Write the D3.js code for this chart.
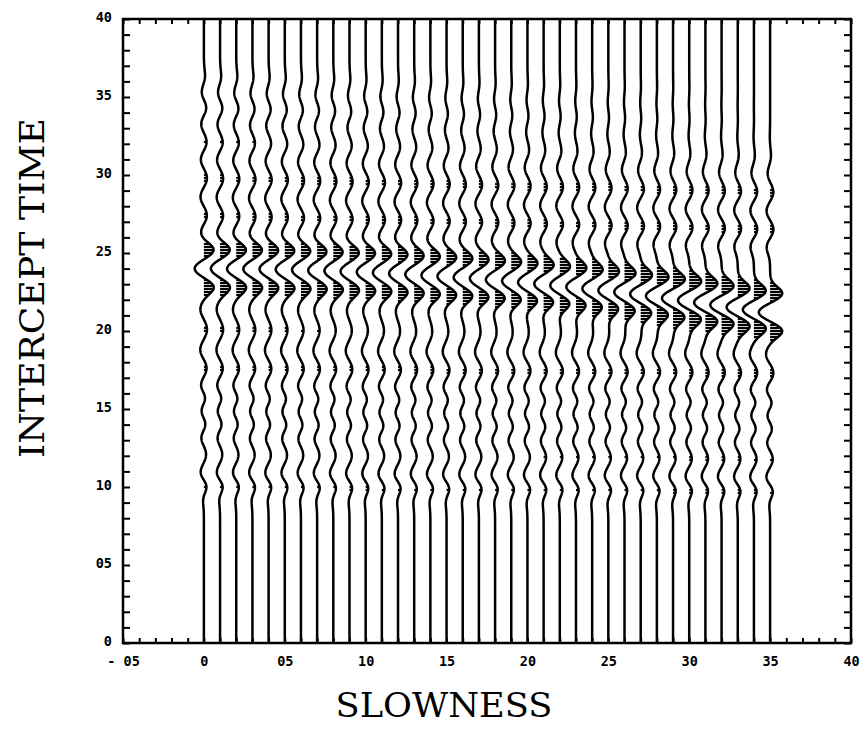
<!DOCTYPE html>
<html>
<head>
<meta charset="utf-8">
<script src="https://cdn.jsdelivr.net/npm/d3@7"></script>
<style>
  body { margin: 0; background: #fff; }
  .tick text { font-family: "DejaVu Sans Mono", monospace; font-weight: bold; font-size: 13.5px; fill: #000; }
  .tick line { stroke: #000; stroke-width: 2; }
  .title { font-family: "DejaVu Serif", "Liberation Serif", serif; font-size: 33px; fill: #000; }
</style>
</head>
<body>
<div id="chart"></div>
<script>
// slowness of each trace
const slowness = [0,1,2,3,4,5,6,7,8,9,10,11,12,13,14,15,16,17,
                  18,19,20,21,22,23,24,25,26,27,28,29,30,31,32,33,34,35];

// main arrival: centre (trough) time per trace
const pulseTime = [24.00,24.00,23.99,23.98,23.97,23.95,23.92,23.89,23.86,23.82,
                   23.78,23.74,23.69,23.63,23.57,23.51,23.44,23.37,23.29,23.21,
                   23.12,23.03,22.93,22.83,22.72,22.61,22.50,22.37,22.25,22.11,
                   21.97,21.83,21.68,21.53,21.37,21.20];
// main arrival peak amplitude (slowness units) per trace
const pulseAmp = [0.62,0.62,0.62,0.61,0.61,0.61,0.60,0.60,0.60,0.60,
                  0.60,0.60,0.60,0.60,0.60,0.61,0.61,0.61,0.62,0.62,
                  0.63,0.63,0.64,0.65,0.66,0.67,0.69,0.71,0.73,0.74,
                  0.75,0.75,0.75,0.74,0.74,0.76];

// background ripples: time on trace 0, signed amplitude (left / right edge), time shift at slowness 35
const rippleTime = [36.3,35.3,34.3,33.3,32.1,31.0,29.8,28.6,27.4,26.3,
                    21.4,20.1,18.8,17.6,16.5,15.7,14.9,14.0,13.2,12.1,10.9,10.0,9.4];
const rippleAmpL = [0.08,-0.15,0.17,-0.18,0.18,-0.2,0.2,-0.22,0.2,-0.2,
                    -0.22,0.2,-0.23,0.18,-0.21,0.15,-0.19,0.15,-0.19,0.15,-0.23,0.23,-0.1];
const rippleAmpR = [0,0,0,-0.02,0.06,-0.16,0.21,-0.23,0.22,-0.22,
                    0,0,-0.26,0.22,-0.24,0.18,-0.22,0.18,-0.22,0.18,-0.26,0.24,-0.1];
const rippleShift = [-0.9,-0.9,-0.9,-0.9,-0.9,-0.9,-0.9,-0.9,-0.9,-0.9,
                     -0.3,-0.3,-0.3,-0.3,-0.3,-0.3,-0.3,-0.3,-0.3,-0.3,-0.3,-0.3,-0.3];

const xTickValues = [-5,0,5,10,15,20,25,30,35,40];
const xTickLabels = ['- 05','0','05','10','15','20','25','30','35','40'];
const yTickValues = [0,5,10,15,20,25,30,35,40];
const yTickLabels = ['0','05','10','15','20','25','30','35','40'];

const width = 867;
const height = 730;
const margin = { left: 123, top: 19, right: 16, bottom: 87 };
const innerW = width - margin.left - margin.right;
const innerH = height - margin.top - margin.bottom;

const svg = d3.select('#chart').append('svg')
    .attr('width', width)
    .attr('height', height)
  .append('g')
    .attr('transform', 'translate(' + margin.left + ',' + margin.top + ')');

const xScale = d3.scaleLinear().domain([-5, 40]).range([0, innerW]);
const yScale = d3.scaleLinear().domain([0, 40]).range([innerH, 0]);

// one lobe of the wavelet
const lobe = (dt, sig) => Math.exp(-(dt * dt) / (2 * sig * sig));
const halfPeriod = 1.2;

function displacement(i, t) {
    const f = slowness[i] / 35;
    let s = 0;
    const tc = pulseTime[i], a = pulseAmp[i];
    s += a * lobe(t - (tc + halfPeriod), 0.42);
    s -= 0.95 * a * lobe(t - tc, 0.42);
    s += a * lobe(t - (tc - halfPeriod), 0.42);
    rippleTime.forEach((rt, k) => {
        const amp = rippleAmpL[k] + (rippleAmpR[k] - rippleAmpL[k]) * f;
        const tt = rt + rippleShift[k] * f;
        s += amp * lobe(t - tt, 0.45);
    });
    return s;
}

const tSamples = d3.range(0, 40.001, 0.04);

const line = d3.line()
    .x(d => xScale(d.p + d.s))
    .y(d => yScale(d.t));

// positive lobes filled with horizontal strokes
const hatchRows = d3.range(innerH, 0, -3).map(py => yScale.invert(py));

slowness.forEach((p, i) => {
    const pts = tSamples.map(t => ({ p: p, t: t, s: displacement(i, t) }));
    const fills = hatchRows
        .map(t => ({ t: t, s: displacement(i, t) }))
        .filter(d => d.s > 0.15);
    svg.append('g').selectAll('line')
        .data(fills)
        .enter().append('line')
        .attr('x1', xScale(p))
        .attr('x2', d => xScale(p + d.s))
        .attr('y1', d => yScale(d.t))
        .attr('y2', d => yScale(d.t))
        .attr('stroke', '#000')
        .attr('stroke-width', 2.2);
    svg.append('path')
        .datum(pts)
        .attr('fill', 'none')
        .attr('stroke', '#000')
        .attr('stroke-width', 2.5)
        .attr('d', line);
});

// axes, ticks pointing inwards
const xBottom = d3.axisBottom(xScale)
    .tickValues(d3.range(-5, 41))
    .tickSize(-5)
    .tickPadding(13)
    .tickFormat(d => xTickValues.indexOf(d) >= 0 ? xTickLabels[xTickValues.indexOf(d)] : '');
const xTop = d3.axisTop(xScale).tickValues(d3.range(-5, 41)).tickSize(-5).tickFormat('');
const yLeft = d3.axisLeft(yScale)
    .tickValues(d3.range(0, 41))
    .tickSize(-7)
    .tickPadding(11)
    .tickFormat(d => yTickValues.indexOf(d) >= 0 ? yTickLabels[yTickValues.indexOf(d)] : '');
const yRight = d3.axisRight(yScale).tickValues(d3.range(0, 41)).tickSize(-7).tickFormat('');

svg.append('g').attr('class', 'x axis').attr('transform', 'translate(0,' + innerH + ')').call(xBottom);
svg.append('g').attr('class', 'x axis').call(xTop);
svg.append('g').attr('class', 'y axis').call(yLeft);
svg.append('g').attr('class', 'y axis').attr('transform', 'translate(' + innerW + ',0)').call(yRight);
svg.selectAll('.domain').remove();
svg.selectAll('.y.axis .tick text').attr('dy', '0.2em');

svg.append('rect')
    .attr('x', 0).attr('y', 0)
    .attr('width', innerW).attr('height', innerH)
    .attr('fill', 'none')
    .attr('stroke', '#000')
    .attr('stroke-width', 2.5);

// axis titles
svg.append('text')
    .attr('class', 'title')
    .attr('x', 321)
    .attr('y', innerH + 74)
    .attr('text-anchor', 'middle')
    .attr('textLength', 217)
    .attr('lengthAdjust', 'spacingAndGlyphs')
    .text('SLOWNESS');

svg.append('text')
    .attr('class', 'title')
    .attr('transform', 'translate(-79,' + 269 + ') rotate(-90)')
    .attr('text-anchor', 'middle')
    .attr('textLength', 340)
    .attr('lengthAdjust', 'spacingAndGlyphs')
    .text('INTERCEPT TIME');
</script>
</body>
</html>
